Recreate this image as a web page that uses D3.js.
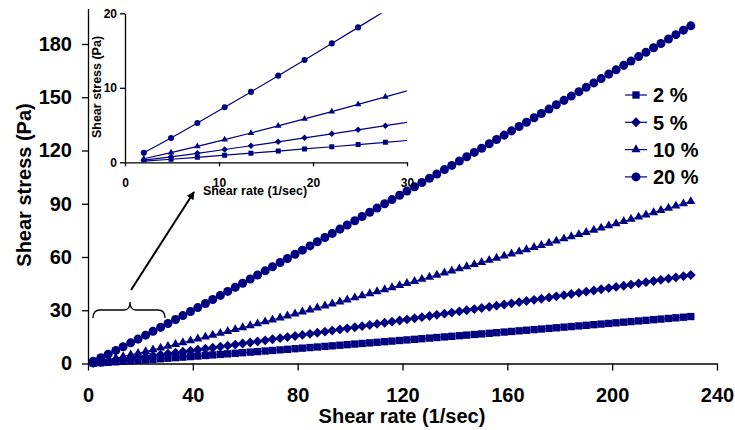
<!DOCTYPE html>
<html>
<head>
<meta charset="utf-8">
<script src="https://cdn.jsdelivr.net/npm/d3@7"></script>
<style>
    body { margin: 0; background: #fff; }
    text { font-family: "Liberation Sans", Arial, sans-serif; font-weight: bold; fill: #000; }
    .axis path, .axis line { stroke: #000; stroke-width: 1.3; }
</style>
</head>
<body>
<div class="div-chart"></div>
<script>
// DATA

var shearRate = [2.0,4.9,7.7,10.6,13.4,16.3,19.1,22.0,24.8,27.7,30.5,33.4,36.2,39.1,41.9,44.8,47.6,50.5,53.3,56.2,
    59.0,61.9,64.7,67.6,70.4,73.3,76.1,79.0,81.8,84.7,87.5,90.4,93.2,96.1,98.9,101.8,104.6,107.5,110.3,113.2,
    116.0,118.9,121.7,124.6,127.4,130.3,133.1,136.0,138.8,141.7,144.5,147.4,150.2,153.1,155.9,158.8,161.6,164.5,167.3,170.2,
    173.0,175.9,178.7,181.6,184.4,187.3,190.1,193.0,195.8,198.7,201.5,204.4,207.2,210.1,212.9,215.8,218.6,221.5,224.3,227.2,230.0];

var stress2 = [0.16,0.41,0.67,0.95,1.22,1.51,1.80,2.09,2.38,2.68,2.98,3.28,3.58,3.89,4.20,4.51,4.82,5.13,5.44,5.76,
    6.08,6.40,6.71,7.04,7.35,7.68,8.00,8.33,8.65,8.98,9.30,9.63,9.96,10.29,10.62,10.96,11.28,11.62,11.95,12.29,
    12.62,12.96,13.29,13.63,13.96,14.31,14.64,14.98,15.32,15.66,16.00,16.34,16.68,17.03,17.37,17.72,18.05,18.40,18.74,19.09,
    19.43,19.78,20.13,20.48,20.82,21.18,21.52,21.87,22.22,22.57,22.92,23.28,23.62,23.98,24.32,24.68,25.03,25.38,25.73,26.09,26.45];

var stress5 = [0.28,0.74,1.21,1.72,2.22,2.75,3.28,3.82,4.36,4.92,5.47,6.04,6.59,7.17,7.74,8.33,8.90,9.49,10.07,10.67,
    11.25,11.86,12.45,13.06,13.65,14.27,14.86,15.48,16.09,16.71,17.32,17.95,18.56,19.19,19.80,20.44,21.05,21.69,22.31,22.95,
    23.58,24.22,24.85,25.49,26.12,26.77,27.40,28.06,28.69,29.35,29.98,30.64,31.28,31.94,32.57,33.24,33.88,34.55,35.19,35.86,
    36.51,37.18,37.83,38.50,39.15,39.82,40.47,41.15,41.80,42.48,43.14,43.82,44.47,45.15,45.81,46.49,47.15,47.84,48.50,49.19,49.85];

var stress10 = [0.48,1.29,2.13,3.04,3.93,4.89,5.82,6.81,7.77,8.78,9.77,10.80,11.81,12.86,13.88,14.95,15.99,17.07,18.12,19.21,
    20.27,21.38,22.45,23.56,24.64,25.77,26.86,27.99,29.09,30.24,31.35,32.49,33.61,34.77,35.89,37.05,38.19,39.36,40.50,41.68,
    42.82,44.00,45.15,46.34,47.49,48.69,49.85,51.05,52.21,53.42,54.59,55.80,56.98,58.20,59.37,60.60,61.78,63.00,64.19,65.42,
    66.62,67.85,69.05,70.29,71.49,72.73,73.94,75.19,76.40,77.65,78.85,80.11,81.33,82.59,83.80,85.07,86.28,87.56,88.78,90.06,91.29];

var stress20 = [1.27,3.27,5.27,7.38,9.45,11.63,13.74,15.96,18.11,20.35,22.53,24.80,27.00,29.29,31.50,33.81,36.05,38.37,40.62,42.96,
    45.22,47.58,49.85,52.21,54.50,56.87,59.17,61.55,63.85,66.25,68.56,70.96,73.29,75.70,78.03,80.45,82.79,85.21,87.56,89.99,
    92.35,94.79,97.14,99.58,101.95,104.40,106.77,109.24,111.60,114.07,116.45,118.92,121.30,123.78,126.17,128.66,131.06,133.54,135.93,138.43,
    140.84,143.32,145.75,148.24,150.66,153.15,155.58,158.07,160.50,163.03,165.45,167.96,170.38,172.91,175.34,177.86,180.30,182.83,185.25,187.80,190.23];

var seriesNames = ["2 %", "5 %", "10 %", "20 %"];
var xTicks = [0, 40, 80, 120, 160, 200, 240];
var yTicks = [0, 30, 60, 90, 120, 150, 180];
var insetXTicks = [0, 10, 20, 30];
var insetYTicks = [0, 10, 20];

// SETUP

var width = 735;
var height = 430;
var navy = "#000080";

var series = [stress2, stress5, stress10, stress20].map((vals, i) => ({
    name: seriesNames[i],
    shape: [d3.symbolSquare, d3.symbolDiamond2, d3.symbolTriangle, d3.symbolCircle][i],
    bigSize: [54, 62, 36, 64][i],
    smallSize: [25, 27, 19, 29][i],
    points: vals.map((v, j) => ({ rate: shearRate[j], stress: v }))
}));

var svg = d3.select(".div-chart").append("svg")
    .attr("width", width)
    .attr("height", height);

// MAIN PLOT

var x = d3.scaleLinear().domain([0, 240]).range([88, 717]);
var y = d3.scaleLinear().domain([0, 200]).range([363.5, 8.5]);

var xAxis = svg.append("g")
    .attr("class", "axis")
    .attr("transform", "translate(0," + y(0) + ")")
    .call(d3.axisBottom(x).tickValues(xTicks).tickSize(7).tickSizeOuter(0).tickPadding(17));
xAxis.selectAll("text").style("font-size", "20px");

var yAxis = svg.append("g")
    .attr("class", "axis")
    .attr("transform", "translate(" + x(0) + ",0)")
    .call(d3.axisLeft(y).tickValues(yTicks).tickSize(6).tickSizeOuter(0).tickPadding(10));
yAxis.selectAll("text").style("font-size", "20px");

svg.append("text")
    .attr("x", 402)
    .attr("y", 423)
    .attr("text-anchor", "middle")
    .style("font-size", "20px")
    .text("Shear rate (1/sec)");

svg.append("text")
    .attr("transform", "translate(31,185) rotate(-90)")
    .attr("text-anchor", "middle")
    .style("font-size", "20px")
    .text("Shear stress (Pa)");

var line = d3.line()
    .x(d => x(d.rate))
    .y(d => y(d.stress));

series.forEach(s => {
    var g = svg.append("g");
    g.append("path")
        .attr("d", line(s.points))
        .attr("fill", "none")
        .attr("stroke", navy)
        .attr("stroke-width", 1);
    g.selectAll("path.pt")
        .data(s.points)
        .join("path")
        .attr("class", "pt")
        .attr("transform", d => "translate(" + x(d.rate) + "," + y(d.stress) + ")")
        .attr("d", d3.symbol().type(s.shape).size(s.bigSize))
        .attr("fill", navy);
});

// LEGEND

var legend = svg.append("g").attr("transform", "translate(625,95)");
series.forEach((s, i) => {
    var row = legend.append("g").attr("transform", "translate(0," + (i * 27.3) + ")");
    row.append("line")
        .attr("x1", 0).attr("x2", 22)
        .attr("stroke", navy).attr("stroke-width", 1.2);
    row.append("path")
        .attr("transform", "translate(11,0)")
        .attr("d", d3.symbol().type(s.shape).size(s.bigSize))
        .attr("fill", navy);
    row.append("text")
        .attr("x", 28)
        .attr("dy", "0.36em")
        .style("font-size", "20px")
        .text(s.name);
});

// INSET

var xi = d3.scaleLinear().domain([0, 30]).range([125, 407]);
var yi = d3.scaleLinear().domain([0, 20]).range([162.3, 13.3]);

svg.append("clipPath")
    .attr("id", "inset-clip")
    .append("rect")
    .attr("x", xi(0)).attr("y", yi(20))
    .attr("width", xi(30) - xi(0)).attr("height", yi(0) - yi(20));

var insetX = svg.append("g")
    .attr("class", "axis")
    .attr("transform", "translate(0," + yi(0) + ")")
    .call(d3.axisBottom(xi).tickValues(insetXTicks).tickSize(4).tickSizeOuter(0).tickPadding(12));
insetX.selectAll("text").style("font-size", "12px");

var insetY = svg.append("g")
    .attr("class", "axis")
    .attr("transform", "translate(" + xi(0) + ",0)")
    .call(d3.axisLeft(yi).tickValues(insetYTicks).tickSize(5).tickSizeOuter(0).tickPadding(3));
insetY.selectAll("text").style("font-size", "12px");

svg.append("text")
    .attr("x", 255)
    .attr("y", 194.5)
    .attr("text-anchor", "middle")
    .style("font-size", "12.5px")
    .text("Shear rate (1/sec)");

svg.append("text")
    .attr("transform", "translate(101,87) rotate(-90)")
    .attr("text-anchor", "middle")
    .style("font-size", "12.5px")
    .text("Shear stress (Pa)");

var insetLine = d3.line()
    .x(d => xi(d.rate))
    .y(d => yi(d.stress));

var insetPlot = svg.append("g").attr("clip-path", "url(#inset-clip)");
series.forEach(s => {
    var pts = s.points.filter(d => d.rate <= 34);
    insetPlot.append("path")
        .attr("d", insetLine(pts))
        .attr("fill", "none")
        .attr("stroke", navy)
        .attr("stroke-width", 1.2);
    insetPlot.selectAll(null)
        .data(pts.filter(d => d.rate <= 30 && d.stress <= 20))
        .join("path")
        .attr("transform", d => "translate(" + xi(d.rate) + "," + yi(d.stress) + ")")
        .attr("d", d3.symbol().type(s.shape).size(s.smallSize))
        .attr("fill", navy);
});

// BRACE AND ARROW

svg.append("path")
    .attr("d", "M93,318 Q93,310 100,310 L124,310 Q130,310 130,302 Q130,310 136,310 L158,310 Q165,310 165,318")
    .attr("fill", "none")
    .attr("stroke", "#000")
    .attr("stroke-width", 1.3);

svg.append("defs").append("marker")
    .attr("id", "arrowhead")
    .attr("viewBox", "0 0 10 10")
    .attr("refX", 9).attr("refY", 5)
    .attr("markerWidth", 4).attr("markerHeight", 4)
    .attr("orient", "auto")
    .append("path")
    .attr("d", "M0,0 L10,5 L0,10 Z")
    .attr("fill", "#000");

svg.append("line")
    .attr("x1", 131).attr("y1", 290)
    .attr("x2", 194).attr("y2", 192)
    .attr("stroke", "#000")
    .attr("stroke-width", 2)
    .attr("marker-end", "url(#arrowhead)");
</script>
</body>
</html>
